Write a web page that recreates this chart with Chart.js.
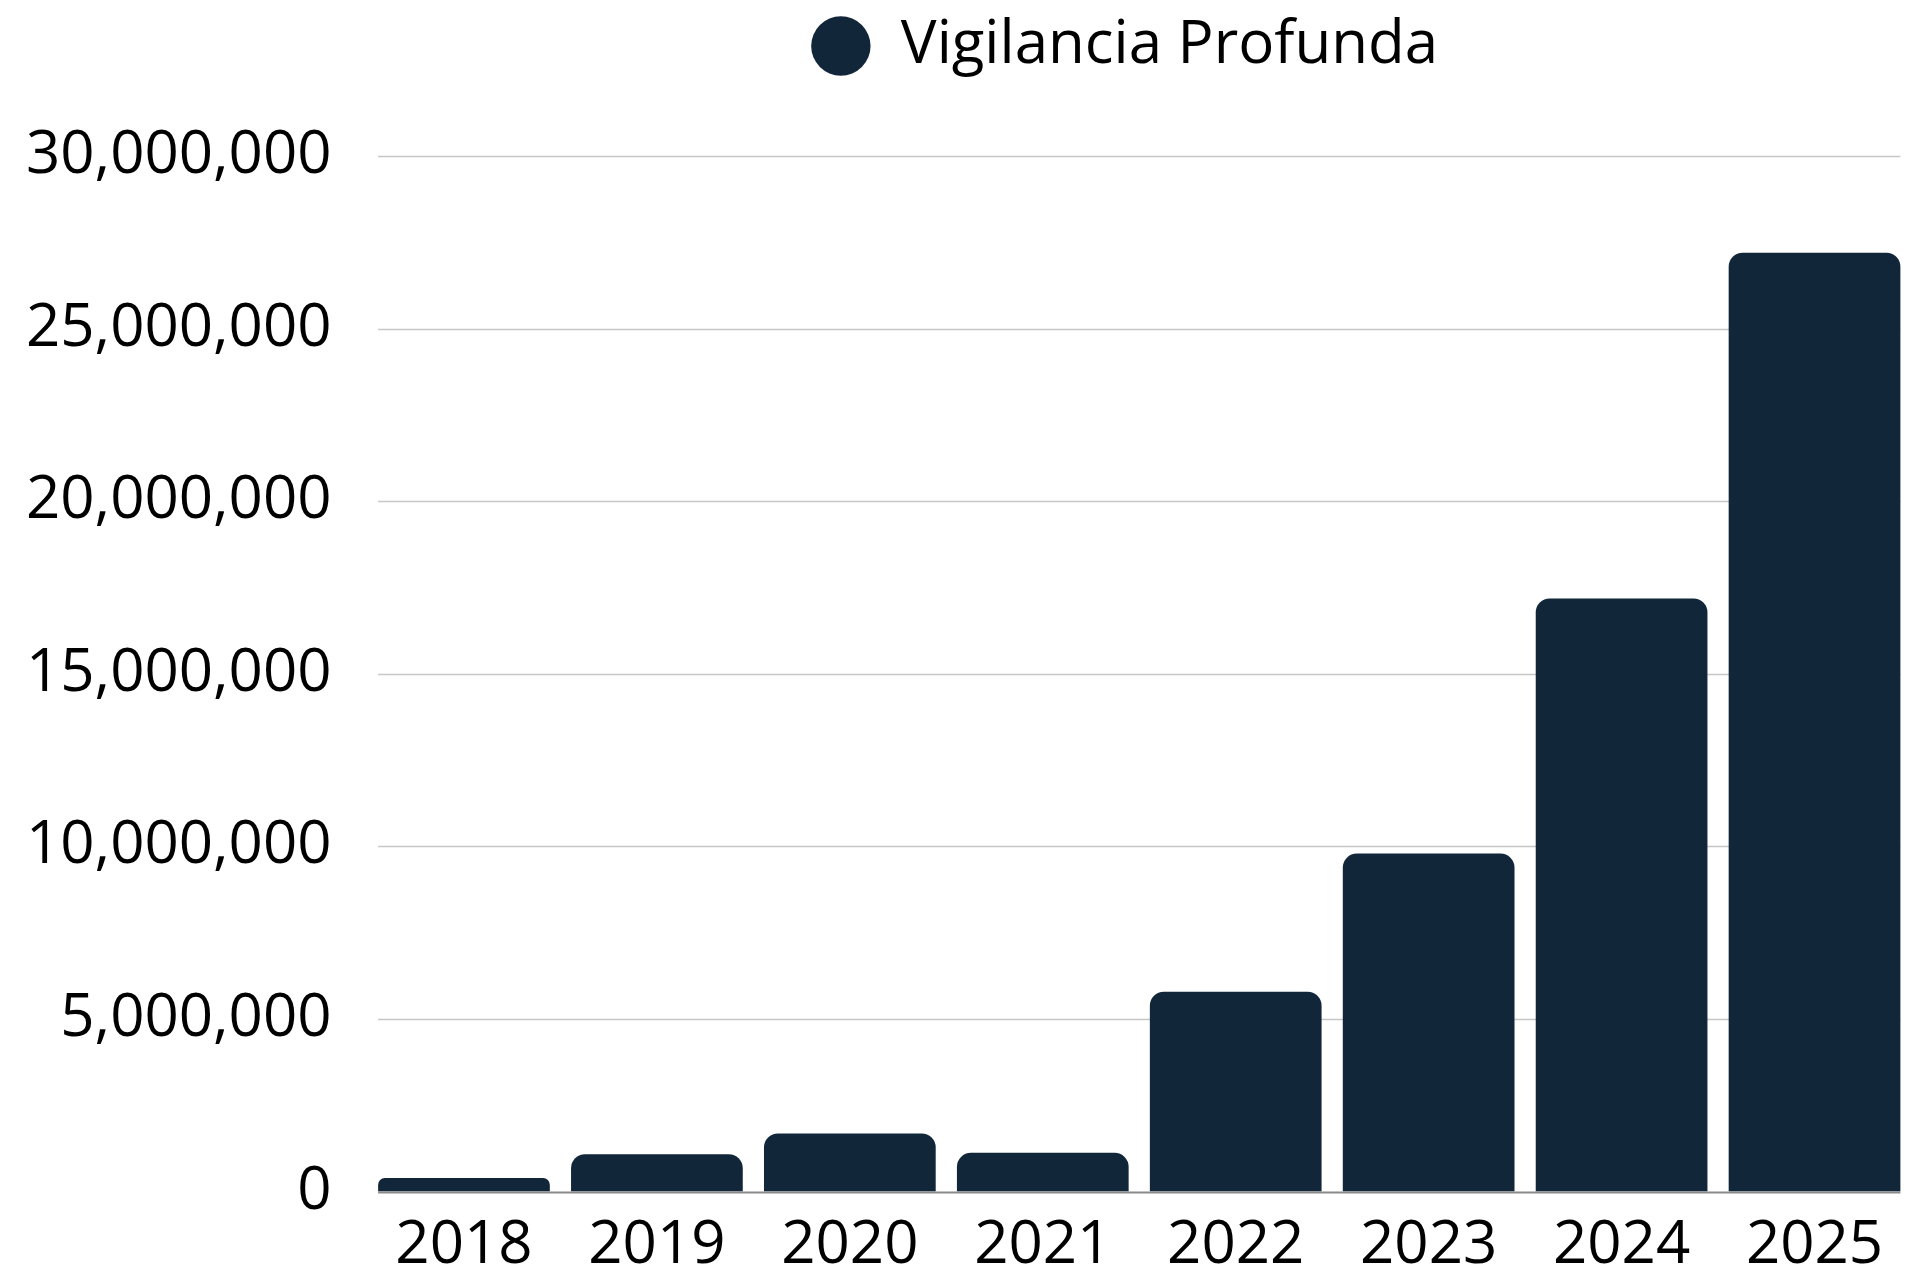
<!DOCTYPE html>
<html>
<head>
<meta charset="utf-8">
<script src="https://cdn.jsdelivr.net/npm/chart.js@4"></script>
<style>
  html, body { margin: 0; padding: 0; background: #fff; }
  #wrap { width: 1932px; height: 1271px; position: relative; }
</style>
</head>
<body>
<div id="wrap"><canvas id="chart"></canvas></div>
<script>
const years = ['2018', '2019', '2020', '2021', '2022', '2023', '2024', '2025'];
const seriesName = 'Vigilancia Profunda';
const values = [390000, 1080000, 1680000, 1120000, 5790000, 9790000, 17180000, 27200000];
const yTicks = [0, 5000000, 10000000, 15000000, 20000000, 25000000, 30000000];

const barColor = '#12263a';
const fontFamily = '"Open Sans", "Noto Sans", sans-serif';
const fontSize = 60;

// horizontal grid lines only span from first bar's left edge to last bar's right edge
const gridPlugin = {
    id: 'barGrid',
    beforeDatasetsDraw(chart) {
        const meta = chart.getDatasetMeta(0);
        const first = meta.data[0];
        const last = meta.data[meta.data.length - 1];
        const x0 = first.x - first.width / 2;
        const x1 = last.x + last.width / 2;
        const y = chart.scales.y;
        const ctx = chart.ctx;
        ctx.save();
        yTicks.forEach(t => {
            const py = Math.round(y.getPixelForValue(t)) + 0.5;
            ctx.beginPath();
            ctx.strokeStyle = t === 0 ? '#8a8a8a' : '#c6c6c6';
            ctx.lineWidth = t === 0 ? 2 : 1.5;
            ctx.moveTo(x0, py);
            ctx.lineTo(x1, py);
            ctx.stroke();
        });
        ctx.restore();
    }
};

// more room under the legend, and legend shifted right
const legendPlugin = {
    id: 'legendSpace',
    beforeInit(chart) {
        const fit = chart.legend.fit;
        chart.legend.fit = function () {
            fit.bind(chart.legend)();
            this.height += 70;
        };
    },
    afterLayout(chart) {
        chart.legend.left += 169;
        chart.legend.right += 169;
    }
};

const ctx = document.getElementById('chart');
new Chart(ctx, {
    type: 'bar',
    data: {
        labels: years,
        datasets: [{
            label: seriesName,
            data: values,
            backgroundColor: barColor,
            borderRadius: 14,
            borderSkipped: 'start',
            categoryPercentage: 1,
            barPercentage: 0.89
        }]
    },
    options: {
        responsive: true,
        maintainAspectRatio: false,
        animation: false,
        layout: {
            padding: { top: 0, right: 21, bottom: 0, left: 0 }
        },
        plugins: {
            legend: {
                display: true,
                position: 'top',
                labels: {
                    usePointStyle: true,
                    pointStyle: 'circle',
                    boxWidth: 60,
                    boxHeight: 42,
                    color: '#000',
                    padding: 16,
                    font: { family: fontFamily, size: fontSize }
                }
            },
            tooltip: { enabled: false }
        },
        scales: {
            x: {
                grid: { display: false, drawTicks: false },
                border: { display: false },
                ticks: {
                    color: '#000',
                    padding: 18,
                    maxRotation: 0,
                    font: { family: fontFamily, size: fontSize }
                },
                afterFit(scale) { scale.height = 79.5; }
            },
            y: {
                min: 0,
                max: 30000000,
                grid: { display: false, drawTicks: false },
                border: { display: false },
                ticks: {
                    stepSize: 5000000,
                    color: '#000',
                    padding: 36,
                    font: { family: fontFamily, size: fontSize }
                },
                afterFit(scale) { scale.width = 367.5; }
            }
        }
    },
    plugins: [gridPlugin, legendPlugin]
});
</script>
</body>
</html>
